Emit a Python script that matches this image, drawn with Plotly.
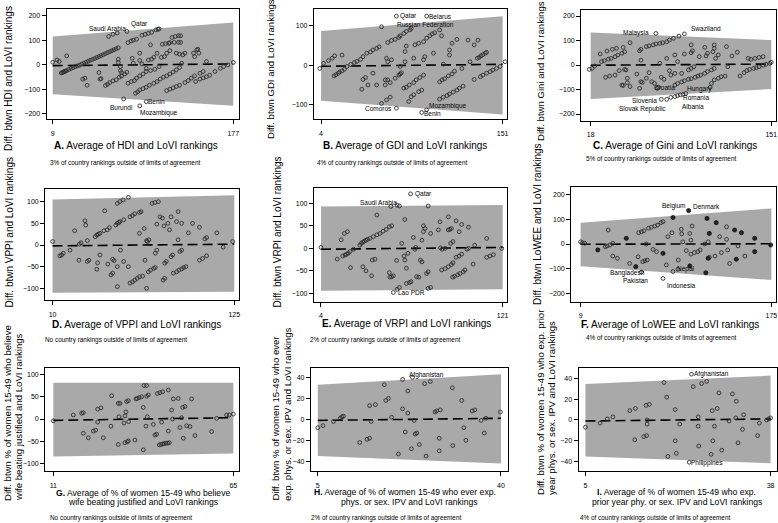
import plotly.graph_objects as go

W, H = 778, 523
FONT = "Liberation Sans, Arial, sans-serif"
BAND_GREY = "#a9a9a9"
INK = "#2b2b2b"

# ---- values: (average rank, difference in rank) ----
hdi_pts = [
    (9, 11), (13, 20), (15, 14), (22, 37),
    (17, -33), (18, -31), (19, -29), (20, -27), (21, -25), (22, -23), (24, -19), (26, -15), (28, -11),
    (30, -7), (32, -4), (34, -1), (36, 3), (38, 7), (40, 11), (42, 15), (44, 19), (46, 22), (48, 26),
    (50, 30), (52, 34), (54, 38), (56, 42), (58, 46), (60, 50), (62, 54), (64, 58), (66, 62), (68, 66), (70, 70),
    (61, 116), (65, 125), (69, 130), (78, 137),
    (79, 91), (82, 98), (84, 101), (87, 105), (92, 121), (95, 125), (98, 129), (101, 133), (105, 143), (107, 146), (108, 147),
    (100, 82), (111, 84), (114, 87), (117, 88), (118, 91), (122, 92), (126, 92), (128, 92), (120, 112), (123, 116), (126, 119), (128, 119),
    (70, 23), (70, 10), (72, -7), (72, -23), (73, -31), (83, 27), (84, 7), (90, 48), (90, 18), (92, 4), (98, 20), (96, -14),
    (101, 23), (100, -23), (103, 31), (104, -18), (106, 48), (108, -7), (110, 31), (113, 34), (115, 48), (118, 58), (124, 48),
    (127, 44), (129, 7), (130, 41), (132, 48), (140, 48), (141, 34), (143, 61), (144, 64), (145, 48), (152, 14),
    (37, -58), (39, -54), (41, -83), (52, -31), (53, -58), (54, -56),
    (58, -84), (60, -79), (62, -72), (65, -65), (68, -61), (71, -50), (73, -45), (76, -37), (78, -30),
    (79, -75), (82, -68), (85, -64), (87, -54), (90, -45), (93, -37), (96, -27),
    (86, -116), (88, -110), (90, -102), (93, -97), (96, -91), (99, -83), (103, -75), (106, -68), (109, -58), (112, -50),
    (115, -45), (118, -37), (121, -29), (124, -20), (127, -11),
    (115, -105), (118, -99), (121, -94), (124, -88), (127, -83), (132, -72), (135, -64), (138, -54), (141, -45), (146, -34), (149, -27),
    (142, -68), (146, -58), (149, -53), (152, -48), (155, -42), (160, -27), (165, -14), (168, -7), (172, 0), (177, 10),
    (75, -139), (96, -150), (90, -167),
]
gdi_pts = [
    (3, -8), (6, 5), (10, 12), (13, 18), (15, 24), (21, 26),
    (14.5, -27), (16, -24), (18, -20), (19, -17), (21, -14), (23, -10), (25, -3), (28, 2), (31, 7), (33, 10), (36, 15),
    (38, 22), (41, 31), (44, 34), (46, 39), (49, 43), (51, 47),
    (53, 98), (58, 58), (61, 63), (64, 66), (67, 71), (68, 75), (71, 81), (73, 86), (76, 90), (77, 94),
    (65, 125), (89.5, 125),
    (80, 52), (83, 56), (87, 60), (89.5, 69), (92, 75), (94, 80), (96, 83), (100, 90),
    (101.6, 75), (110, 56), (114, 66), (123, 64), (128, 52), (131, 64), (130.5, 18), (132, 20), (133.5, 24), (135, 27),
    (137, 31), (138, 33), (124.6, 9), (118, -8),
    (57, 18), (58, 9), (61, 14), (68, -3), (72, 9), (73, 49), (72, 35), (79, 18), (87, 14), (88, 22), (95, 31), (108, 39), (108, 26), (103, 3),
    (37, -61), (38, -36), (40, -31), (42, -50), (46, -20), (49, -50), (56, -37), (56, -50), (58, -37), (60, -44), (64, -33),
    (67, -25), (68, -22), (69, -19),
    (53, -97), (57, -88), (60, -81),
    (75, -92), (77, -80), (79, -75), (83, -67), (85.5, -63),
    (71, -58), (73, -56), (75.5, -50), (79, -44), (81, -37), (84, -31), (87, -25),
    (100, -42), (102, -37), (104, -34), (107, -27), (110, -22), (112, -15),
    (100, -86), (103, -81), (106, -77), (108, -73), (111, -68), (114, -63), (116, -58), (119, -53),
    (128, -36), (133, -29), (135, -25), (138, -20), (141, -16), (143, -12), (146, -8), (149, -3), (153, 9),
    (65, -109), (89.5, -113), (85.5, -120),
]
gini_pts = [
    (17, -18), (19, -14), (21, -4), (26, 14), (28, 18), (31, 24), (33, 27), (36, 34), (38, 41), (41, 48), (43, 54),
    (25, 45), (30, 57), (34, 64), (37, 68), (42, 72), (47, 91),
    (54, 58), (55, 64), (59, 75), (61, 78), (64, 82), (66, 86), (69, 88), (71, 91), (74, 95), (76, 102), (79, 109),
    (83, 118), (87, 127), (66, 129),
    (55, 20), (61, -31), (63, -68), (69, 7), (74, 27), (76, -23), (80, 41), (82, 14), (85, -34), (87, 45), (92, 82),
    (92, 50), (93, 58), (98, 34), (102, 72), (103, 37), (104, 48), (108, 54), (109, 82), (109, 68), (110, 27), (112, 41),
    (118, 75), (119, -7), (122, 37), (126, 52), (128, -45), (131, -31), (134, 27),
    (133, -23), (135, -18), (138, -14), (140, -11), (142, -7), (145, -1), (147, 3), (150, 7), (151, 11),
    (136, 23), (139, 27), (142, 31), (145, 34),
    (29, -50), (32, -45), (36, -41), (39, -23), (43, -18), (44, -20), (45, -54), (45, -72), (47, -88), (41, -82), (42, -83),
    (52, -37), (54, -95), (55, -68), (56, -71), (59, -54), (65, -75), (67, -95), (70, -50), (72, -58), (77, -41), (80, -34),
    (80, -82), (82, -75), (85, -69), (87, -64), (90, -58), (92, -56), (95, -50), (97, -45), (99, -41), (102, -34), (104, -27),
    (107, -20), (109, -14),
    (90, -20), (92, -14), (94, -7),
    (107, -75), (109, -61), (112, -54), (114, -48), (117, -45),
    (70, -140), (74, -140), (77, -132), (80, -129), (82, -125), (84, -122), (86, -120), (88, -116), (106, -91), (68, -91),
]
vppi_pts = [
    (10, 8), (14.6, -25), (15.7, -23), (16.8, -19), (21, -12), (24, 33), (26.7, -35), (27, 2), (28, 5), (30.5, 56), (31, 46),
    (32, 10), (32, -38), (33, -35), (37, 19), (38, 23), (39, 25), (40, 27), (38.5, -41), (38, -56), (40, -23), (42.5, 33),
    (43, 79), (44.6, 35), (46, 40), (45, -44), (47, -69), (48, -65), (48, -33), (49, -36), (50, 46), (51, 50), (52, 52),
    (52.6, 54), (51, -50), (51, 96), (52.6, 100), (54.7, 104), (58, 110), (53, -12), (55, 58), (55, -38), (51, -96),
    (58, -50), (59, 65), (60.6, 68), (62, 72), (65, 75), (66, 77),
    (59, -88), (60.6, -85), (62, -81), (63.6, -77), (65, -73), (67, -72), (68.5, -35), (65, 27), (68, 38), (69.5, 10),
    (70, 8), (71, 12), (69.5, -100), (70.6, -62), (72, -58), (74, -54), (75, -52), (76, 48), (76, -12), (75, -19),
    (73, 96), (74.8, 98), (77, 100), (78, 65), (79.6, 62), (80.5, 44), (81, -42), (82, -38), (83, 50), (84, 35),
    (80, -81), (81, -77), (85, -27), (86, -23), (85, 65), (88.5, 54), (89.5, 12), (89.5, 77), (90.6, -15), (91.7, -12),
    (91.7, 50), (86.4, -65), (88.5, -62), (90, -58), (91.7, -55), (93, -52), (94.4, -50), (96, 28), (98.6, 50), (103, 41),
    (103, -35), (105, -31), (107.5, -25), (106.4, 14), (107.5, 17), (114, 28), (118, -5), (124, 8),
]
vrpi_pts = [
    (4, 2), (14.5, -24), (17, 19), (19, 33), (21, 37), (18, -17), (19.5, -15), (20.5, -13), (21.6, -11), (22.7, -7),
    (23, -43), (25, -2), (29, 7), (30, 11), (31, 14), (32, 16), (33, 18), (34, 20), (35.5, 22), (37.7, 26), (40, 30),
    (42, 33), (31, -41), (33, -50), (36.6, -61), (37, -26), (38.8, -24), (40, 74), (44, 38), (46, 42), (48, 48),
    (49.5, 50), (48, -54), (48.4, -64), (49.5, -63), (50.6, -61), (49, 93), (53, 96), (54.5, 94), (52.7, -27), (53, -91),
    (54.5, -87), (56, 11), (57.5, -17), (58, 64), (58, -26), (59, -44), (60, -11), (59, -78), (61, -76), (62, -74),
    (63.5, 24), (64.5, -2), (65, 2), (65.6, -63), (67, -64), (68, -26), (69, -30), (69, 18), (70, 37), (70, 50), (71, 44),
    (73, 94), (74.6, 33), (72, -56), (73, -52), (73, -89), (74.6, -87), (79.6, 41), (80.6, 59), (81, 1), (82, -2), (84, 0),
    (81.7, -48), (84, -45), (86, -41), (88, -36), (89, -32), (86, 41), (87, 42), (88, 44), (86, 70), (87.5, 11), (89, 15),
    (91, 61), (91, -20), (93, -17), (94.6, -13), (93, 37), (94.6, 53), (99, 47), (88.8, -64), (90, -62), (92, -59),
    (93.5, -56), (95.7, -52), (96.7, -48), (98, -2), (99, 0), (102, -35), (103, 7), (110.7, 22), (110.7, -20),
    (112.8, -17), (115, -14), (120.4, 0),
    (61.7, 121), (50.6, -98),
]
lowee_pts = [
    (9, 9), (10.5, 5), (12.5, 3), (30.5, -11), (32, -8), (34.5, -4), (37, 3), (33, 57), (37, -49), (41, -58),
    (51.7, -79), (59, -52), (59.5, 46), (62, 50), (64, 54), (66, 0), (63, -72), (65, -68), (67, -65), (68, 64),
    (70.5, 68), (73.5, 73), (76, 77), (79, 87), (80.7, 91), (72, -22), (75, -31), (83.6, -85), (85, 30), (88.5, 46),
    (89.4, -112), (96.6, 60), (97, 41), (98, 9), (101, -27), (94, -65), (104, 43), (106, 73), (105, 16), (105, -41),
    (108, -35), (111, -31), (113, -24), (117, 0), (120, 9), (121, -54), (126, -49), (130, 30), (131.5, -35), (136, 70),
    (136, 19), (137, -24), (138.7, -79), (146, -8), (152, -49), (62, -114), (80.7, -140), (93.7, -103),
]
lowee_dark_pts = [
    (24, -24), (48.8, 23), (57, -92), (80.7, -38), (89.4, 108), (103, 136), (104, -89), (119, 104), (121, 43),
    (120, -58), (118, -117), (127, 87), (143, 57), (144.5, -62), (149, 46), (160.5, 23), (160.5, -31), (174.4, -4),
]
wife_pts = [
    (11, -4), (17, 9), (19.5, 13), (20, 14), (20, -32), (21.5, -42), (23, -27), (23.7, -25), (24.3, 22), (25.3, 25),
    (24.3, -7), (26, -42), (28.5, 52), (28.3, -16), (30.5, 35), (31, 35), (30.5, -57), (30.7, 5), (32.2, -9), (32.5, 7),
    (32.8, 16), (32.5, -53), (33.2, -51), (33.5, -49), (33, 39), (33.5, 41), (33.6, -6), (35.5, -47), (35.8, 45),
    (36.2, 46), (36.8, 48), (37.5, 50), (38, -69), (38.2, 75), (39, 75), (38, 26), (39, 51), (39.5, 54), (38.8, -16),
    (39.2, 5), (41, -12), (41.5, -36), (42, -34), (42.2, 57), (43, 59), (43.8, 61), (42.8, -58), (43.3, -57),
    (43.8, -56), (44.3, -55), (44.8, -54), (45.3, -54), (45.8, -53), (43.5, -7), (45.5, 65), (45.5, -27), (46.5, 20),
    (46.8, 0), (47, 45), (48.5, 46), (49, -19), (49.5, 3), (49.8, 26), (50, -43), (50.5, 28), (51, -15), (52, -17),
    (52.5, 45), (53.5, -37), (58.5, -28), (60, 1.5), (63, 9), (63.8, 9), (65, 11),
]
ipv_ever_pts = [
    (5, -8), (6, -6), (8, -2), (9.3, 1), (9.6, 2.5), (9.9, 3), (13, -22), (14.4, -19), (14.9, -18), (14.9, 13),
    (15.2, -2), (16, 14), (17.7, 33), (18, 18), (18.5, 20), (19.1, 2), (20.4, -33), (21.2, 38), (21.2, 10), (21.7, -12),
    (22.2, 27), (22.2, 6), (23.1, 40), (22.9, -28), (23.4, -1), (23.6, -14), (23.9, -13), (24.4, -24), (25.4, 34),
    (25.7, -35), (26.5, 36), (27.4, 7), (27.7, 8), (28.2, -18), (28.4, 9), (28.2, -30), (30.7, 30), (30.8, -25),
    (32.5, 18), (32.9, -8), (33.3, -20), (34.5, 8), (35, 9), (36.2, -1), (36.8, -13), (37.1, 1), (39.9, 7),
]
ipv_year_pts = [
    (5, -7), (7.6, -3), (8.9, 1), (9.9, 3), (12.9, 9), (13.9, 11), (13.8, -19), (15.4, -16), (15.9, -15), (15.8, 14),
    (16.4, 15), (16, 0), (16, -4), (19, 36), (19.5, 22), (19.7, -35), (21, 10), (21, -20), (21.2, -32), (21.8, -4),
    (24.2, 32), (23.9, 44), (25.1, 3), (25.1, -6), (25.2, -25), (25.7, 35), (26.6, 37), (27.4, -33), (27.6, 9),
    (27.7, -20), (28, -6), (28.5, 11), (28.8, 26), (29.3, -29), (30.6, -1), (31.2, 25), (31.8, 2), (31.9, 18),
    (32.2, -22), (33, -9), (33.2, 5), (35.7, -15), (36, -3), (37.3, 0), (37.7, 1), (38, 2), (23.5, -40.6),
]

# limits of agreement (at first / last x tick) and mean difference line
x_ticks = {"A": [9, 177], "B": [4, 151], "C": [18, 151], "D": [10, 125], "E": [4, 121],
           "F": [9, 175], "G": [11, 65], "H": [5, 40], "I": [5, 38]}
upper_loa = {"A": [116, 173], "B": [87, 125], "C": [133, 102], "D": [105, 115], "E": [93, 96],
             "F": [87, 145], "G": [81, 81], "H": [33, 43], "I": [34.6, 42.6]}
lower_loa = {"A": [-120, -167], "B": [-90, -125], "C": [-139, -98], "D": [-110, -108], "E": [-94, -91],
             "F": [-90, -146], "G": [-84, -77], "H": [-35, -42], "I": [-35, -41.6]}
mean_diff = {"A": [-3, 4], "B": [-2.5, 2.5], "C": [-1, 4], "D": [-2, 2], "E": [-2, 2],
             "F": [-1, 1], "G": [-3, 3], "H": [-1, 1], "I": [-1, 1]}
y_ticks = {"A": [-200, -100, 0, 100, 200], "B": [-100, 0, 100], "C": [-200, -100, 0, 100, 200],
           "D": [-100, -50, 0, 50, 100], "E": [-100, -50, 0, 50, 100], "F": [-200, -100, 0, 100, 200],
           "G": [-100, -50, 0, 50, 100], "H": [-40, -20, 0, 20, 40], "I": [-40, -20, 0, 20, 40]}

x_titles = {
    "A": ["<b>A.</b> Average of HDI and LoVI rankings"],
    "B": ["<b>B.</b> Average of GDI and LoVI rankings"],
    "C": ["<b>C.</b> Average of Gini and LoVI rankings"],
    "D": ["<b>D.</b> Average of VPPI and LoVI rankings"],
    "E": ["<b>E.</b> Average of VRPI and LoVI rankings"],
    "F": ["<b>F.</b> Average of LoWEE and LoVI rankings"],
    "G": ["<b>G.</b> Average of % of women 15-49 who believe", "wife beating justified and LoVI rankings"],
    "H": ["<b>H.</b> Average of % of women 15-49 who ever exp.", "phys. or sex. IPV and LoVI rankings"],
    "I": ["<b>I.</b> Average of % of women 15-49 who exp.", "prior year phy. or sex. IPV and LoVI rankings"],
}
y_titles = {
    "A": ["Diff. btwn HDI and LoVI rankings"],
    "B": ["Diff. btwn GDI and LoVI rankings"],
    "C": ["Diff. btwn Gini and LoVI rankings"],
    "D": ["Diff. btwn VPPI and LoVI rankings"],
    "E": ["Diff. btwn VRPI and LoVI rankings"],
    "F": ["Diff. btwn LoWEE and LoVI rankings"],
    "G": ["Diff. btwn % of women 15-49 who believe", "wife beating justified and LoVI rankings"],
    "H": ["Diff. btwn % of women 15-49 who ever", "exp. phys. or sex. IPV and LoVI rankings"],
    "I": ["Diff. btwn % of women 15-49 who exp. prior", "year phys. or sex. IPV and LoVI rankings"],
}
notes = {
    "A": "3% of country rankings outside of limits of agreement",
    "B": "4% of country rankings outside of limits of agreement",
    "C": "5% of country rankings outside of limits of agreement",
    "D": "No country rankings outside of limits of agreement",
    "E": "2% of country rankings outside of limits of agreement",
    "F": "4% of country rankings outside of limits of agreement",
    "G": "No country rankings outside of limits of agreement",
    "H": "2% of country rankings outside of limits of agreement",
    "I": "4% of country rankings outside of limits of agreement",
}
country_labels = {
    "A": ["Saudi Arabia", "Qatar", "Burundi", "Benin", "Mozambique"],
    "B": ["Qatar", "Belarus", "Russian Federation", "Comoros", "Mozambique", "Benin"],
    "C": ["Malaysia", "Swaziland", "Croatia", "Hungary", "Romania", "Slovenia", "Slovak Republic", "Albania"],
    "D": [],
    "E": ["Qatar", "Saudi Arabia", "Lao PDR"],
    "F": ["Belgium", "Denmark", "Bangladesh", "Pakistan", "Nepal", "Indonesia"],
    "G": [],
    "H": ["Afghanistan"],
    "I": ["Afghanistan", "Philippines"],
}

# ---- layout of each panel (pixel boxes in the 778x523 page) ----
layout_px = {
    # box l, r, t, b ; x/y ranges ; y-title line x centres & bottom ; x-title line centres ; note centre
    "A": dict(box=(46.7, 239.3, 9.3, 119.3), xr=[3.4, 182.6], yr=[-222, 227], yt_x=[8.5], yt_b=153, yt_s=10,
              xt=[(136, 145)], note=(125, 163),
              lab=[(59.8, 150), (89.3, 167), (72.2, -173), (105.7, -150), (108, -195)]),
    "B": dict(box=(314, 506.7, 9.3, 119.3), xr=[-1.7, 154.3], yr=[-137.3, 142.4], yt_x=[270], yt_b=141, yt_s=9.6,
              xt=[(405, 145)], note=(392, 163),
              lab=[(74.7, 125), (100.3, 125), (88.7, 104), (50.4, -110), (106.5, -103), (94.4, -122)]),
    "C": dict(box=(581.3, 776.3, 10, 120.7), xr=[11.1, 154.7], yr=[-227.2, 224.5], yt_x=[540], yt_b=143, yt_s=9.6,
              xt=[(675, 145)], note=(661, 159),
              lab=[(51.6, 129), (103.2, 147), (72.5, -91), (98.2, -98), (95.8, -132), (57.3, -143), (55.8, -181), (93.3, -170)]),
    "D": dict(box=(45.3, 239.3, 189, 300), xr=[5.4, 128.2], yr=[-126.9, 129.2], yt_x=[8.5], yt_b=310, yt_s=10,
              xt=[(136, 324)], note=(116, 340), lab=[]),
    "E": dict(box=(314, 506.7, 188.3, 301.7), xr=[-0.5, 123.6], yr=[-118.5, 133.3], yt_x=[277], yt_b=310, yt_s=10,
              xt=[(406, 323)], note=(385, 340),
              lab=[(69.9, 120.7), (40.9, 101.5), (62.4, -98.5)]),
    "F": dict(box=(571.3, 776.3, 186.7, 301.7), xr=[0.9, 179.3], yr=[-234.6, 233.2], yt_x=[537], yt_b=307, yt_s=10,
              xt=[(670, 324)], note=(661, 338),
              lab=[(89.4, 154.6), (118.4, 154.6), (49.6, -116.6), (56.6, -149), (101, -100), (96.6, -167)]),
    "G": dict(box=(45.3, 239.3, 367.7, 471), xr=[8.6, 66.8], yr=[-116.4, 114.9], yt_x=[7, 18], yt_b=503, yt_s=9.6,
              xt=[(143, 493), (142.5, 502)], note=(121, 518), lab=[]),
    "H": dict(box=(311, 508.3, 367.7, 471), xr=[3.7, 41.4], yr=[-49.2, 49.2], yt_x=[275, 287], yt_b=503, yt_s=9.6,
              xt=[(405, 492), (409, 502)], note=(386, 518), lab=[(25.8, 42.2)]),
    "I": dict(box=(578.7, 777.3, 367.7, 471), xr=[3.8, 39.2], yr=[-49, 50.2], yt_x=[540, 551], yt_b=497, yt_s=9.6,
              xt=[(676, 492), (677, 502)], note=(655, 518),
              lab=[(27.5, 43.8), (26.6, -41.3)]),
}

points = {"A": hdi_pts, "B": gdi_pts, "C": gini_pts, "D": vppi_pts, "E": vrpi_pts,
          "F": lowee_pts, "G": wife_pts, "H": ipv_ever_pts, "I": ipv_year_pts}
dark_points = {"F": lowee_dark_pts}


def fx(px):
    return px / W


def fy(py):
    return 1 - py / H


fig = go.Figure()
annotations = []
axes = {}

for n, key in enumerate("ABCDEFGHI", start=1):
    cfg = layout_px[key]
    xa, ya = ("x", "y") if n == 1 else (f"x{n}", f"y{n}")
    l, r, t, b = cfg["box"]
    x0, x1 = x_ticks[key]

    # limits of agreement band
    fig.add_trace(go.Scatter(
        x=[x0, x1, x1, x0, x0],
        y=[upper_loa[key][0], upper_loa[key][1], lower_loa[key][1], lower_loa[key][0], upper_loa[key][0]],
        fill="toself", fillcolor=BAND_GREY, line=dict(width=0), mode="lines",
        hoverinfo="skip", xaxis=xa, yaxis=ya))
    # mean difference
    fig.add_trace(go.Scatter(
        x=[x0, x1], y=mean_diff[key], mode="lines",
        line=dict(color="black", width=1.6, dash="10px,5px"),
        xaxis=xa, yaxis=ya))
    # countries
    px_, py_ = zip(*points[key])
    fig.add_trace(go.Scatter(
        x=px_, y=py_, mode="markers",
        marker=dict(symbol="circle-open", size=3.8, color=INK, line=dict(width=0.9)),
        xaxis=xa, yaxis=ya))
    if key in dark_points:
        dx, dy = zip(*dark_points[key])
        fig.add_trace(go.Scatter(
            x=dx, y=dy, mode="markers",
            marker=dict(symbol="circle", size=4.2, color="#262626", line=dict(width=0.6, color="#000")),
            xaxis=xa, yaxis=ya))

    common = dict(showgrid=False, zeroline=False, showline=True, linecolor="black", linewidth=1.3,
                  mirror=True, ticks="outside", ticklen=4, tickwidth=1, tickcolor="black",
                  tickfont=dict(family=FONT, size=7, color="black"), automargin=False)
    axes["xaxis" if n == 1 else f"xaxis{n}"] = dict(
        common, domain=[fx(l), fx(r)], anchor=ya, range=cfg["xr"], tickvals=x_ticks[key],
        ticklabelstandoff=3)
    axes["yaxis" if n == 1 else f"yaxis{n}"] = dict(
        common, domain=[fy(b), fy(t)], anchor=xa, range=cfg["yr"], tickvals=y_ticks[key])

    # y title (rotated), x title lines, note
    two_line = len(y_titles[key]) > 1
    for txt, xc in zip(y_titles[key], cfg["yt_x"]):
        annotations.append(dict(text=txt, x=fx(xc), y=fy(cfg["yt_b"]), xref="paper", yref="paper",
                                xanchor="center", yanchor="bottom", textangle=-90, showarrow=False,
                                font=dict(family=FONT, size=cfg["yt_s"], color="black")))
    xsize = 8.6 if two_line else 10
    for txt, (xc, yc) in zip(x_titles[key], cfg["xt"]):
        annotations.append(dict(text=txt, x=fx(xc), y=fy(yc), xref="paper", yref="paper",
                                xanchor="center", yanchor="middle", showarrow=False,
                                font=dict(family=FONT, size=xsize, color="black")))
    annotations.append(dict(text=notes[key], x=fx(cfg["note"][0]), y=fy(cfg["note"][1]),
                            xref="paper", yref="paper", xanchor="center", yanchor="middle",
                            showarrow=False, font=dict(family=FONT, size=6.4, color="black")))
    for txt, (lx, ly) in zip(country_labels[key], cfg["lab"]):
        annotations.append(dict(text=txt, x=lx, y=ly, xref=xa, yref=ya, showarrow=False,
                                xanchor="center", yanchor="middle",
                                font=dict(family=FONT, size=6.5, color="black")))

fig.update_layout(
    width=W, height=H,
    margin=dict(l=0, r=0, t=0, b=0),
    paper_bgcolor="white", plot_bgcolor="white",
    showlegend=False,
    annotations=annotations,
    **axes,
)

# the page body has a default 8px margin; drop it so the 778x523 figure fills the window
fig.write_html("out.html", config={"displayModeBar": False},
               post_script="document.body.style.margin='0';")
